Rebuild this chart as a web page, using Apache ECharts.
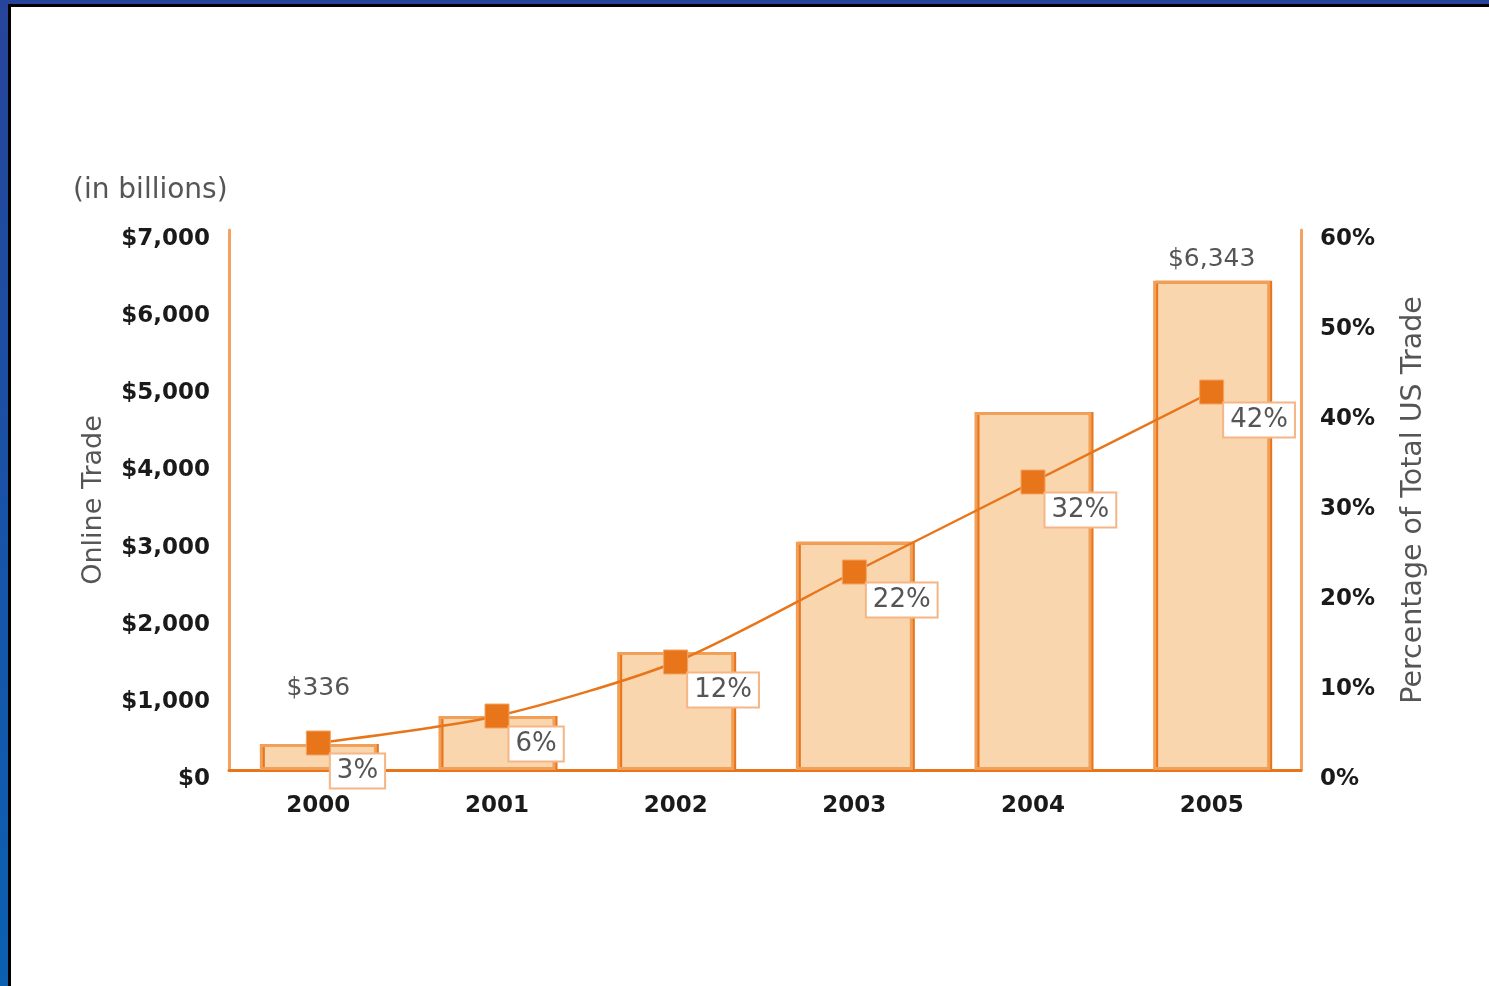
<!DOCTYPE html>
<html>
<head>
<meta charset="utf-8">
<script src="https://cdn.jsdelivr.net/npm/echarts@6/dist/echarts.min.js"></script>
<style>
  html, body { margin: 0; padding: 0; background: #fff; }
  #frameTop { position: absolute; left: 0; top: 0; width: 1489px; height: 4px; background: #26449a; }
  #frameTopBlack { position: absolute; left: 8px; top: 4px; width: 1481px; height: 3px; background: #000; }
  #frameLeft { position: absolute; left: 0; top: 0; width: 8px; height: 986px; background: linear-gradient(#26449a, #0b60b2); }
  #frameLeftBlack { position: absolute; left: 8px; top: 4px; width: 3px; height: 982px; background: #000; }
  #chart { position: absolute; left: 0; top: 0; width: 1489px; height: 986px; }
</style>
</head>
<body>
<div id="frameTop"></div>
<div id="frameLeft"></div>
<div id="frameTopBlack"></div>
<div id="frameLeftBlack"></div>
<div id="chart"></div>
<script>
const years = ['2000', '2001', '2002', '2003', '2004', '2005'];
const onlineTrade = [336, 700, 1530, 2960, 4640, 6343];        // $ billions
const shareOfUSTrade = [3, 6, 12, 22, 32, 42];                 // percent
const barValueLabels = { 0: '$336', 5: '$6,343' };
const leftAxisMax = 7000, leftAxisStep = 1000;
const rightAxisMax = 60, rightAxisStep = 10;

const FONT = 'DejaVu Sans';
const chart = echarts.init(document.getElementById('chart'));

const barData = onlineTrade.map((v, i) => {
  const item = { value: v };
  if (barValueLabels[i] !== undefined) {
    item.label = {
      show: true, position: 'top',
      distance: i === 0 ? 43 : 9,
      formatter: barValueLabels[i],
      fontFamily: FONT, fontSize: 25, color: '#555'
    };
  }
  return item;
});

const tickLabel = {
  fontFamily: FONT, fontWeight: 'bold', fontSize: 23, color: '#1a1a1a', margin: 19,
  verticalAlign: 'top', lineHeight: 18
};

chart.setOption({
  backgroundColor: 'transparent',
  animation: false,
  grid: { left: 229, right: 188, top: 230, bottom: 216 },
  graphic: [{
    type: 'text', left: 73, top: 177,
    style: { text: '(in billions)', fontFamily: FONT, fontSize: 28, fill: '#555' }
  }],
  xAxis: {
    type: 'category', data: years,
    axisLine: { lineStyle: { color: '#e8751a', width: 3 } },
    axisTick: { show: false },
    axisLabel: { fontFamily: FONT, fontWeight: 'bold', fontSize: 23, color: '#1a1a1a', margin: 25 }
  },
  yAxis: [{
    type: 'value', min: 0, max: leftAxisMax, interval: leftAxisStep,
    name: 'Online Trade', nameLocation: 'middle', nameGap: 122, nameRotate: 90,
    nameTextStyle: { fontFamily: FONT, fontSize: 27, color: '#555' },
    axisLine: { show: true, lineStyle: { color: '#f3a35e', width: 3 } },
    axisTick: { show: false },
    splitLine: { show: false },
    axisLabel: Object.assign({}, tickLabel, { formatter: v => '$' + v.toLocaleString('en-US') })
  }, {
    type: 'value', min: 0, max: rightAxisMax, interval: rightAxisStep,
    name: 'Percentage of Total US Trade', nameLocation: 'middle', nameGap: 98, nameRotate: 90,
    nameTextStyle: { fontFamily: FONT, fontSize: 28.5, color: '#555' },
    axisLine: { show: true, lineStyle: { color: '#f3a35e', width: 3 } },
    axisTick: { show: false },
    splitLine: { show: false },
    axisLabel: Object.assign({}, tickLabel, { formatter: v => v + '%' })
  }],
  series: [{
    type: 'bar', yAxisIndex: 0, data: barData, barWidth: 117,
    itemStyle: {
      color: '#f9d6ae', borderColor: '#f0a058', borderWidth: 3,
      shadowColor: '#e8751a', shadowOffsetX: 2, shadowOffsetY: 0, shadowBlur: 0
    },
    z: 2
  }, {
    type: 'line', yAxisIndex: 1, data: shareOfUSTrade, smooth: 0.25,
    symbol: 'rect', symbolSize: 24,
    lineStyle: { color: '#e8751a', width: 2.5 },
    itemStyle: { color: '#e8751a', borderColor: '#f2a465', borderWidth: 1 },
    label: {
      show: true, position: [25, 24], align: 'left', verticalAlign: 'top',
      formatter: '{c}%', fontFamily: FONT, fontSize: 26, color: '#555',
      backgroundColor: '#fff', borderColor: '#f5b585', borderWidth: 2,
      padding: [2, 6, 2, 6], lineHeight: 29
    },
    z: 5
  }]
});
</script>
</body>
</html>
